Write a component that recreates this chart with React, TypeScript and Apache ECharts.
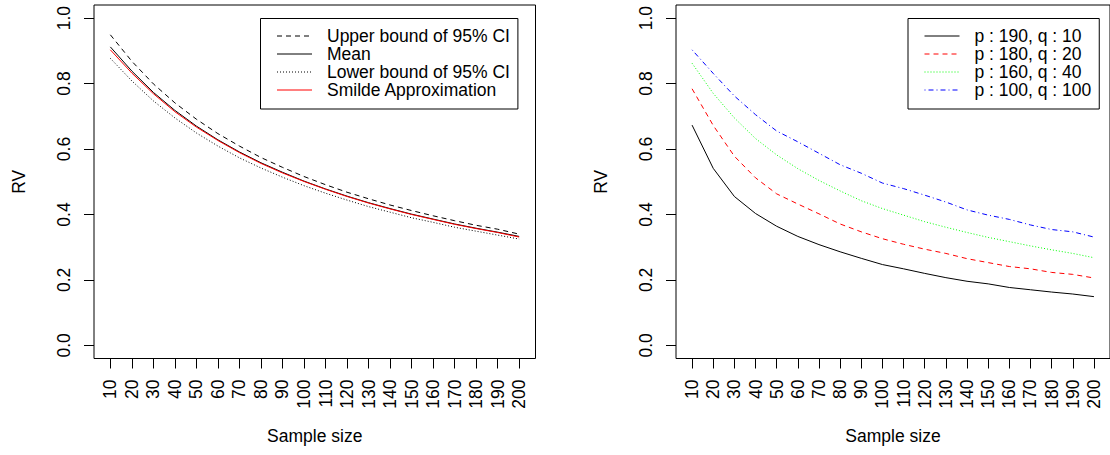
import React, { useEffect, useRef } from "react";
import * as echarts from "echarts";

const sampleSizes = [10, 20, 30, 40, 50, 60, 70, 80, 90, 100, 110, 120, 130, 140, 150, 160, 170, 180, 190, 200];
const yTicks = [0, 0.2, 0.4, 0.6, 0.8, 1.0];

// Left panel
const upperCI = [0.949, 0.868, 0.799, 0.741, 0.691, 0.647, 0.609, 0.574, 0.544, 0.516, 0.491, 0.468, 0.448, 0.429, 0.412, 0.396, 0.381, 0.367, 0.355, 0.340];
const meanRV = [0.912, 0.838, 0.773, 0.718, 0.670, 0.628, 0.591, 0.558, 0.529, 0.502, 0.478, 0.456, 0.436, 0.418, 0.401, 0.386, 0.371, 0.358, 0.346, 0.333];
const lowerCI = [0.877, 0.808, 0.747, 0.695, 0.649, 0.609, 0.573, 0.542, 0.514, 0.488, 0.465, 0.444, 0.424, 0.407, 0.390, 0.376, 0.361, 0.349, 0.337, 0.325];
const smilde = [0.903, 0.832, 0.769, 0.714, 0.667, 0.626, 0.589, 0.556, 0.527, 0.501, 0.477, 0.455, 0.435, 0.417, 0.400, 0.385, 0.370, 0.357, 0.345, 0.331];

// Right panel
const p190q10 = [0.673, 0.541, 0.455, 0.403, 0.364, 0.333, 0.308, 0.286, 0.266, 0.247, 0.234, 0.220, 0.207, 0.196, 0.188, 0.177, 0.170, 0.163, 0.157, 0.149];
const p180q20 = [0.784, 0.672, 0.578, 0.512, 0.463, 0.432, 0.402, 0.371, 0.347, 0.326, 0.309, 0.294, 0.281, 0.265, 0.253, 0.241, 0.234, 0.223, 0.217, 0.206];
const p160q40 = [0.862, 0.770, 0.695, 0.632, 0.582, 0.540, 0.504, 0.472, 0.442, 0.418, 0.398, 0.378, 0.361, 0.345, 0.330, 0.317, 0.304, 0.292, 0.281, 0.268];
const p100q100 = [0.903, 0.831, 0.762, 0.705, 0.655, 0.622, 0.587, 0.552, 0.526, 0.496, 0.479, 0.459, 0.438, 0.414, 0.398, 0.385, 0.368, 0.354, 0.347, 0.331];

const FONT = "Liberation Sans, Arial, sans-serif";
const FS = 17.5;

function pairs(vals: number[]) {
  return sampleSizes.map((n, i) => [n, vals[i]]);
}

function xAxisCfg(gridIndex: number) {
  return {
    type: "value",
    gridIndex,
    min: 2.4,
    max: 207.6,
    name: "Sample size",
    nameLocation: "middle",
    nameGap: 68,
    nameTextStyle: { fontSize: FS, fontFamily: FONT, color: "#000" },
    axisLine: { show: false, onZero: false },
    splitLine: { show: false },
    axisTick: { show: true, inside: false, length: 10, customValues: sampleSizes, lineStyle: { color: "#000", width: 1 } },
    axisLabel: {
      show: true,
      customValues: sampleSizes,
      rotate: 90,
      margin: 21,
      fontSize: FS,
      fontFamily: FONT,
      color: "#000",
    },
  };
}

function yAxisCfg(gridIndex: number) {
  return {
    type: "value",
    gridIndex,
    min: -0.04,
    max: 1.04,
    name: "RV",
    nameLocation: "middle",
    nameGap: 66,
    nameTextStyle: { fontSize: FS, fontFamily: FONT, color: "#000" },
    axisLine: { show: false, onZero: false },
    splitLine: { show: false },
    axisTick: { show: true, inside: false, length: 10, customValues: yTicks, lineStyle: { color: "#000", width: 1 } },
    axisLabel: {
      show: true,
      customValues: yTicks,
      rotate: 90,
      margin: 21,
      fontSize: FS,
      fontFamily: FONT,
      color: "#000",
      formatter: (v: number) => v.toFixed(1),
    },
  };
}

function lineSeries(name: string, vals: number[], idx: number, color: string, type: any) {
  return {
    type: "line",
    name,
    xAxisIndex: idx,
    yAxisIndex: idx,
    data: pairs(vals),
    symbol: "none",
    showSymbol: false,
    lineStyle: { color, width: 1, type },
    itemStyle: { color },
  };
}

export default function App() {
  const ref = useRef<HTMLDivElement>(null);
  useEffect(() => {
    if (!ref.current) return;
    const chart = echarts.init(ref.current, undefined, { renderer: "svg" });
    const legendCommon = {
      orient: "vertical",
      itemWidth: 35,
      itemHeight: 17.5,
      itemGap: 0,
      borderColor: "#000",
      borderWidth: 1,
      borderRadius: 0,
      selectedMode: false,
      itemStyle: { opacity: 0 },
      lineStyle: { width: 1 },
      textStyle: { fontSize: FS, fontFamily: FONT, color: "#000", lineHeight: 17.5, padding: [0, 0, 0, 10] },
    };
    chart.setOption({
      animation: false,
      backgroundColor: "#fff",
      grid: [
        { left: 94, top: 5, width: 441.5, height: 353.5, show: true, borderColor: "#000", borderWidth: 1, backgroundColor: "transparent", containLabel: false },
        { left: 676, top: 5, width: 441, height: 353.5, show: true, borderColor: "#000", borderWidth: 1, backgroundColor: "transparent", containLabel: false },
      ],
      xAxis: [xAxisCfg(0), xAxisCfg(1)],
      yAxis: [yAxisCfg(0), yAxisCfg(1)],
      legend: [
        {
          ...legendCommon,
          left: 260.5,
          top: 18.5,
          padding: [8.5, 8, 10, 16],
          data: ["Upper bound of 95% CI", "Mean", "Lower bound of 95% CI", "Smilde Approximation"],
        },
        {
          ...legendCommon,
          left: 908,
          top: 18.5,
          padding: [8.5, 8, 10, 16],
          data: ["p : 190, q : 10", "p : 180, q : 20", "p : 160, q : 40", "p : 100, q : 100"],
        },
      ],
      series: [
        lineSeries("Upper bound of 95% CI", upperCI, 0, "#000", [5, 4]),
        lineSeries("Mean", meanRV, 0, "#000", "solid"),
        lineSeries("Lower bound of 95% CI", lowerCI, 0, "#000", [1, 2]),
        lineSeries("Smilde Approximation", smilde, 0, "#ff0000", "solid"),
        lineSeries("p : 190, q : 10", p190q10, 1, "#000", "solid"),
        lineSeries("p : 180, q : 20", p180q20, 1, "#ff0000", [5, 4]),
        lineSeries("p : 160, q : 40", p160q40, 1, "#00ff00", [1, 2]),
        lineSeries("p : 100, q : 100", p100q100, 1, "#0000ff", [1, 3, 5, 3]),
      ],
    });
    return () => chart.dispose();
  }, []);
  return (
    <div
      ref={ref}
      style={{ position: "fixed", left: 0, top: 0, width: 1110, height: 455, background: "#fff" }}
    />
  );
}
